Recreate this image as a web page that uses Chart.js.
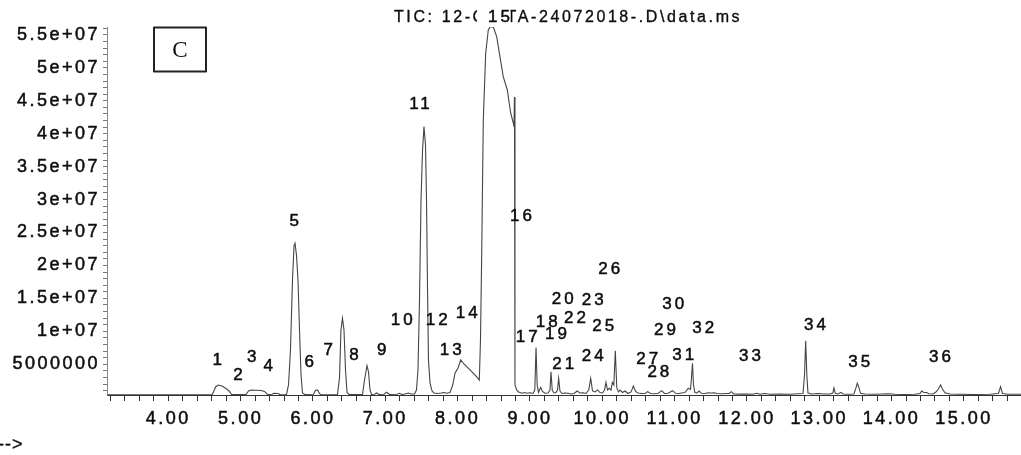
<!DOCTYPE html>
<html>
<head>
<meta charset="utf-8">
<script src="https://cdn.jsdelivr.net/npm/chart.js@4.4.1/dist/chart.umd.min.js"></script>
<style>
  html, body { margin: 0; padding: 0; background: #fff; }
  canvas { display: block; }
</style>
</head>
<body>
<canvas id="tic" width="1021" height="455"></canvas>
<script>
// Total ion chromatogram: retention time (min) and abundance (millions of counts)
const retentionTime = [
  3.152, 4.604, 4.625, 4.653, 4.691, 4.742, 4.798, 4.839, 4.874, 5.074,
  5.109, 5.143, 5.212, 5.282, 5.330, 5.372, 5.434, 5.462, 5.517, 5.551,
  5.634, 5.662, 5.689, 5.717, 5.738, 5.752, 5.772, 5.793, 5.814, 5.835,
  5.855, 5.890, 6.007, 6.035, 6.063, 6.090, 6.111, 6.339, 6.367, 6.387,
  6.408, 6.429, 6.450, 6.471, 6.498, 6.685, 6.713, 6.747, 6.768, 6.789,
  6.809, 6.851, 6.881, 6.913, 6.982, 7.019, 7.058, 7.162, 7.196, 7.231,
  7.272, 7.318, 7.355, 7.404, 7.431, 7.452, 7.473, 7.494, 7.515, 7.535,
  7.556, 7.570, 7.584, 7.597, 7.618, 7.646, 7.674, 7.715, 7.771, 7.812,
  7.849, 7.895, 7.932, 7.964, 8.005, 8.043, 8.088, 8.171, 8.240, 8.300,
  8.316, 8.333, 8.355, 8.388, 8.424, 8.448, 8.493, 8.540, 8.585, 8.631,
  8.687, 8.734, 8.770, 8.779, 8.786, 8.793, 8.817, 8.843, 8.887, 8.926,
  8.960, 9.001, 9.042, 9.067, 9.084, 9.100, 9.118, 9.132, 9.148, 9.173,
  9.208, 9.249, 9.277, 9.291, 9.308, 9.332, 9.360, 9.381, 9.397, 9.415,
  9.443, 9.484, 9.530, 9.567, 9.608, 9.654, 9.691, 9.737, 9.774, 9.813,
  9.840, 9.865, 9.899, 9.937, 9.968, 10.003, 10.031, 10.051, 10.072, 10.097,
  10.120, 10.139, 10.160, 10.180, 10.201, 10.224, 10.245, 10.280, 10.315, 10.356,
  10.398, 10.430, 10.460, 10.494, 10.550, 10.591, 10.628, 10.666, 10.715, 10.770,
  10.821, 10.860, 10.909, 10.973, 11.012, 11.061, 11.095, 11.143, 11.189, 11.219,
  11.231, 11.247, 11.261, 11.281, 11.309, 11.337, 11.372, 11.420, 11.462, 11.503,
  11.545, 11.586, 11.641, 11.710, 11.754, 11.784, 11.816, 11.899, 12.010, 12.079,
  12.135, 12.180, 12.249, 12.318, 12.457, 12.595, 12.706, 12.775, 12.796, 12.812,
  12.828, 12.844, 12.899, 12.982, 13.065, 13.148, 13.187, 13.203, 13.221, 13.258,
  13.300, 13.327, 13.396, 13.479, 13.507, 13.525, 13.546, 13.570, 13.632, 13.770,
  13.954, 14.047, 14.185, 14.323, 14.392, 14.416, 14.447, 14.484, 14.516, 14.571,
  14.613, 14.637, 14.678, 14.703, 14.737, 14.807, 14.945, 15.152, 15.359, 15.478,
  15.506, 15.533, 15.609, 15.789
];
const abundanceMillions = [
  0.35, 0.35, 0.79, 1.55, 1.85, 1.70, 1.32, 0.94, 0.41, 0.41,
  0.94, 1.09, 1.05, 1.02, 0.87, 0.41, 0.44, 0.59, 0.56, 0.36,
  0.41, 1.85, 7.17, 17.8, 22.96, 23.37, 21.59, 17.8, 10.2, 3.37,
  0.64, 0.41, 0.44, 1.02, 1.09, 0.56, 0.36, 0.41, 2.92, 10.2,
  11.98, 10.2, 4.13, 0.71, 0.41, 0.41, 2.61, 4.78, 3.83, 1.09,
  0.41, 0.44, 0.64, 0.41, 0.44, 0.74, 0.41, 0.44, 0.59, 0.41,
  0.49, 0.64, 0.49, 0.49, 1.09, 4.13, 14.76, 29.94, 37.53, 41.07,
  38.29, 29.94, 16.28, 5.65, 2.16, 0.94, 0.64, 0.56, 0.64, 0.71,
  0.59, 0.71, 1.85, 3.63, 4.43, 5.65, 5.04, 4.13, 3.37, 2.61,
  8.69, 21.89, 42.09, 52.22, 55.75, 56.2, 56.2, 54.74, 51.70, 48.66,
  46.64, 43.11, 41.59, 41.07, 45.58, 1.85, 1.09, 0.79, 0.59, 0.71,
  0.59, 0.67, 0.56, 1.09, 7.55, 1.85, 0.71, 1.09, 1.50, 0.87,
  0.59, 0.64, 1.09, 3.87, 1.09, 0.64, 0.71, 1.09, 2.87, 0.94,
  0.56, 0.64, 0.59, 0.49, 0.56, 0.94, 0.64, 0.68, 0.56, 1.09,
  2.87, 0.94, 0.79, 1.09, 0.71, 0.64, 1.09, 2.26, 1.09, 1.35,
  1.09, 2.26, 1.85, 7.06, 1.40, 0.79, 1.09, 0.71, 0.94, 0.56,
  0.79, 1.70, 0.87, 0.64, 0.56, 0.56, 0.84, 0.56, 0.52, 0.56,
  0.99, 0.56, 0.59, 0.99, 0.59, 0.56, 0.64, 0.71, 1.35, 1.17,
  2.61, 5.15, 1.85, 0.71, 0.64, 0.94, 0.59, 0.56, 0.68, 0.64,
  0.68, 0.56, 0.52, 0.56, 0.56, 0.84, 0.49, 0.46, 0.49, 0.44,
  0.59, 0.44, 0.56, 0.44, 0.49, 0.44, 0.52, 0.56, 3.37, 8.58,
  3.37, 0.64, 0.49, 0.56, 0.49, 0.49, 0.64, 1.40, 0.59, 0.49,
  0.74, 0.49, 0.44, 0.49, 1.40, 2.11, 1.55, 0.59, 0.49, 0.44,
  0.52, 0.44, 0.41, 0.44, 0.56, 0.94, 0.71, 0.71, 0.52, 0.49,
  0.79, 1.09, 1.85, 1.25, 0.68, 0.49, 0.44, 0.41, 0.44, 0.56,
  1.60, 0.56, 0.44, 0.44
];

// Numbered peak annotations: anchor time (min) and height (millions of counts)
const peakNumbers = [
  '1','2','3','4','5','6','7','8','9','10','11','12','13','14','15','16','17','18',
  '19','20','21','22','23','24','25','26','27','28','29','30','31','32','33','34','35','36'
];
const peakLabelTime = [
  4.677, 4.964, 5.153, 5.383, 5.742, 5.949, 6.212, 6.567, 6.950, 7.227, 7.473, 7.711,
  7.904, 8.126, 8.600, 8.876, 8.955, 9.232, 9.360, 9.453, 9.461, 9.623, 9.868, 9.868,
  10.014, 10.097, 10.622, 10.775, 10.867, 10.982, 11.120, 11.397, 12.042, 12.941, 13.553, 14.669
];
const peakLabelHeight = [
  5.65, 3.37, 6.00, 4.63, 26.65, 5.30, 7.17, 6.30, 7.17, 11.72, 44.52, 11.62,
  7.17, 12.74, 57.61, 27.41, 9.10, 11.31, 9.55, 14.86, 5.04, 11.98, 14.76, 6.26,
  10.70, 19.47, 5.75, 3.83, 10.20, 14.11, 6.41, 10.46, 6.26, 10.96, 5.24, 6.00
];

// Axis ticks
const xTickValues = [4, 5, 6, 7, 8, 9, 10, 11, 12, 13, 14, 15];
const xTickLabels = ['4.00','5.00','6.00','7.00','8.00','9.00','10.00','11.00','12.00','13.00','14.00','15.00'];
const yTickValues = [5e6, 1e7, 1.5e7, 2e7, 2.5e7, 3e7, 3.5e7, 4e7, 4.5e7, 5e7, 5.5e7];
const yTickLabels = ['5000000','1e+07','1.5e+07','2e+07','2.5e+07','3e+07','3.5e+07','4e+07','4.5e+07','5e+07','5.5e+07'];

const titleLeft = 'TIC: 12-C';
const titleRight = 'TA-24072018-.D\\data.ms';
const panelLetter = 'C';

const SANS = '"Liberation Sans", Arial, Helvetica, sans-serif';
const SERIF = '"Liberation Serif", "Times New Roman", serif';
const INK = '#0d0d0d';

const points = retentionTime.map((t, i) => ({ x: t, y: abundanceMillions[i] * 1e6 }));

function inkText(ctx, text, x, y, weight) {
  ctx.lineWidth = weight;
  ctx.strokeStyle = INK;
  ctx.fillText(text, x, y);
  ctx.strokeText(text, x, y);
}

const annotations = {
  id: 'annotations',
  beforeDraw(chart) {
    chart.ctx.letterSpacing = '2.5px';
  },
  afterDraw(chart) {
    const { ctx } = chart;
    const xs = chart.scales.x, ys = chart.scales.y;
    ctx.save();
    ctx.fillStyle = INK;
    ctx.textBaseline = 'middle';
    ctx.lineJoin = 'round';

    // header
    ctx.font = '16px ' + SANS;
    ctx.letterSpacing = '2.6px';
    ctx.textAlign = 'left';
    inkText(ctx, titleLeft, 394, 18, 0.35);
    inkText(ctx, titleRight, 506.5, 18, 0.35);

    // peak numbers
    ctx.font = '17px ' + SANS;
    ctx.letterSpacing = '3px';
    ctx.textAlign = 'center';
    peakNumbers.forEach((n, i) => {
      const px = xs.getPixelForValue(peakLabelTime[i]);
      const py = ys.getPixelForValue(peakLabelHeight[i] * 1e6);
      let dx = 1.5;
      if (py < chart.chartArea.top) {
        // label sitting on the header line gets a paper-coloured backing
        ctx.fillStyle = '#fff';
        ctx.fillRect(px - 24, py - 10, 33.5, 17);
        ctx.fillStyle = INK;
        dx = -0.5;
      }
      inkText(ctx, n, px + dx, py, 0.5);
    });

    // panel letter box
    ctx.letterSpacing = '0px';
    ctx.strokeStyle = '#222';
    ctx.lineWidth = 2;
    ctx.strokeRect(154, 27.5, 52, 44);
    ctx.font = '23px ' + SERIF;
    ctx.fillText(panelLetter, 180, 51);

    // time-axis arrow
    ctx.font = '18px ' + SANS;
    ctx.letterSpacing = '1px';
    ctx.textAlign = 'left';
    inkText(ctx, '-->', -2, 445, 0.4);
    ctx.restore();
  }
};

new Chart(document.getElementById('tic'), {
  type: 'line',
  data: {
    datasets: [{
      data: points,
      borderColor: '#454545',
      borderWidth: 1.1,
      pointRadius: 0,
      tension: 0,
      fill: false
    }]
  },
  options: {
    responsive: false,
    animation: false,
    events: [],
    layout: { padding: { top: 27, right: 0, bottom: 0, left: 0 } },
    plugins: { legend: { display: false }, tooltip: { enabled: false }, title: { display: false } },
    scales: {
      x: {
        type: 'linear',
        min: 3.1525,
        max: 15.789,
        afterBuildTicks(scale) {
          const t = [];
          for (let k = 0; 3.2 + 0.2 * k <= scale.max; k++) t.push({ value: +(3.2 + 0.2 * k).toFixed(1) });
          scale.ticks = t;
        },
        afterFit(scale) { scale.height = 60; },
        ticks: {
          autoSkip: false,
          maxRotation: 0,
          minRotation: 0,
          padding: 7,
          color: INK,
          textStrokeColor: INK,
          textStrokeWidth: 0.5,
          font: { family: SANS, size: 18 },
          callback(v) {
            const i = xTickValues.findIndex(t => Math.abs(t - v) < 1e-6);
            return i >= 0 ? xTickLabels[i] : '';
          }
        },
        grid: { drawOnChartArea: false, drawTicks: true, tickLength: 6, color: '#333', tickColor: '#333' },
        border: { color: '#333', width: 1 }
      },
      y: {
        type: 'linear',
        min: 0.33e6,
        max: 56.2e6,
        afterBuildTicks(scale) {
          const t = [];
          for (let k = 1; k * 1e6 <= scale.max; k++) t.push({ value: k * 1e6 });
          scale.ticks = t;
        },
        afterFit(scale) { scale.width = 107; },
        ticks: {
          autoSkip: false,
          padding: 3,
          color: INK,
          textStrokeColor: INK,
          textStrokeWidth: 0.5,
          font: { family: SANS, size: 18 },
          callback(v) {
            const i = yTickValues.findIndex(t => Math.abs(t - v) < 1);
            return i >= 0 ? yTickLabels[i] : '';
          }
        },
        grid: { drawOnChartArea: false, drawTicks: true, tickLength: 4, color: '#777', tickColor: '#777' },
        border: { color: '#888', width: 1 }
      }
    }
  },
  plugins: [annotations]
});
</script>
</body>
</html>
